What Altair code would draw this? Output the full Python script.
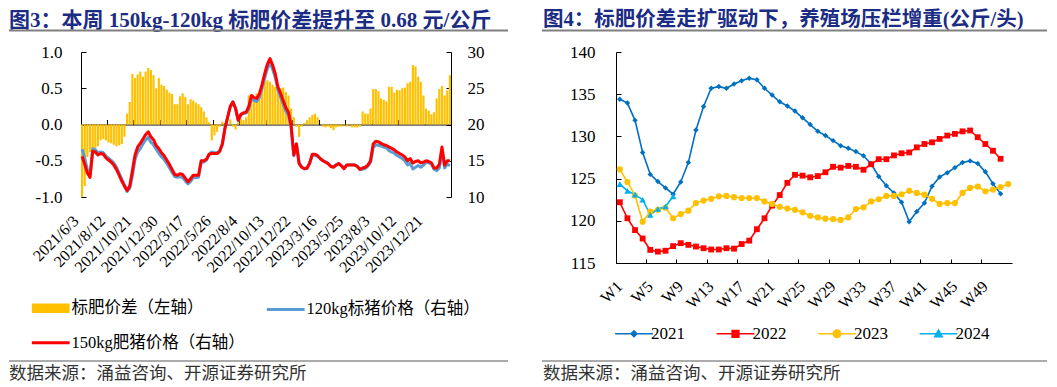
import math
import altair as alt
import pandas as pd

# ------------------------------------------------------------------ Figure 3 data
SPREAD = [
    -1.00, -0.85, -0.45, -0.38, -0.35, -0.33, -0.30, -0.22, -0.20, -0.22,
    -0.25, -0.26, -0.28, -0.30, -0.29, -0.27, -0.17, 0.15, 0.31, 0.70,
    0.64, 0.69, 0.73, 0.66, 0.73, 0.78, 0.75, 0.68, 0.50, 0.64,
    0.55, 0.53, 0.48, 0.44, 0.42, 0.28, 0.28, 0.39, 0.43, 0.38,
    0.28, 0.35, 0.33, 0.30, 0.28, 0.24, 0.18, 0.10, 0.03, -0.22,
    -0.15, -0.10, -0.03, 0.04, 0.02, 0.00, 0.07, -0.03, -0.07, 0.03,
    0.08, 0.06, 0.10, 0.40, 0.38, 0.36, 0.43, 0.47, 0.50, 0.59,
    0.61, 0.59, 0.55, 0.52, 0.45, 0.50, 0.51, 0.45, 0.40, 0.22,
    0.10, -0.03, -0.17, -0.03, 0.02, 0.06, 0.10, 0.13, 0.15, 0.10,
    0.00, -0.03, -0.04, -0.03, -0.05, -0.08, -0.04, -0.03, -0.03, -0.01,
    -0.03, -0.01, -0.04, -0.04, -0.04, -0.03, 0.18, 0.15, 0.15, 0.22,
    0.49, 0.49, 0.46, 0.36, 0.34, 0.32, 0.52, 0.52, 0.44, 0.48,
    0.47, 0.50, 0.51, 0.57, 0.59, 0.82, 0.80, 0.66, 0.59, 0.40,
    0.22, 0.19, 0.14, 0.17, 0.36, 0.49, 0.53, 0.40, 0.47, 0.68,
]
P150 = [
    15.6, 14.5, 13.3, 12.7, 16.3, 16.2, 15.8, 16.0, 15.9, 15.4,
    15.1, 14.8, 14.4, 13.8, 13.0, 12.2, 11.5, 10.9, 11.5, 13.6,
    15.8, 16.9, 17.4, 18.0, 18.6, 19.0, 18.3, 17.9, 17.1, 16.7,
    16.1, 15.7, 15.1, 14.5, 13.8, 13.1, 13.0, 13.2, 13.1, 12.6,
    12.1, 12.5, 13.0, 13.0, 13.0, 15.0, 15.0, 15.2, 15.9, 16.0,
    16.0, 16.0, 16.3, 17.3, 19.5, 21.0, 22.5, 23.1, 22.2, 20.6,
    21.4, 21.6, 21.7, 22.5, 24.0, 23.7, 23.6, 24.2, 25.5, 27.0,
    28.3, 29.1, 28.2, 27.0, 25.2, 24.3, 23.3, 22.3, 21.7, 19.8,
    15.8, 17.3, 14.6, 14.1, 13.9, 14.0, 14.7, 15.9, 15.9, 15.7,
    15.3, 15.0, 14.8, 14.6, 14.2, 14.1, 14.4, 14.6, 14.3, 13.9,
    14.4, 14.4, 14.4, 14.4, 14.2, 13.8, 14.0, 14.1, 14.4, 15.0,
    17.3, 17.7, 17.6, 17.4, 17.2, 17.1, 16.9, 16.7, 16.5, 16.2,
    16.0, 15.8, 15.5, 15.0, 15.3, 14.7, 14.9, 15.0, 14.7, 14.8,
    15.0, 14.9, 14.7, 14.0, 14.0, 14.5, 16.9, 14.4, 15.0, 15.0,
]
P120 = [
    16.60, 15.35, 13.75, 13.08, 16.65, 16.53, 16.10, 16.22, 16.10, 15.62,
    15.35, 15.06, 14.68, 14.10, 13.29, 12.47, 11.67, 10.75, 11.19, 12.90,
    15.16, 16.21, 16.67, 17.34, 17.87, 18.22, 17.55, 17.22, 16.60, 16.06,
    15.55, 15.17, 14.62, 14.06, 13.38, 12.82, 12.72, 12.81, 12.67, 12.22,
    11.82, 12.15, 12.67, 12.70, 12.72, 14.76, 14.82, 15.10, 15.87, 16.22,
    16.15, 16.10, 16.33, 17.26, 19.48, 21.00, 22.43, 23.13, 22.27, 20.57,
    21.32, 21.54, 21.60, 22.10, 23.62, 23.34, 23.17, 23.73, 25.00, 26.41,
    27.69, 28.51, 27.65, 26.48, 24.75, 23.80, 22.79, 21.85, 21.30, 19.58,
    15.70, 17.33, 14.77, 14.13, 13.88, 13.94, 14.60, 15.77, 15.75, 15.60,
    15.30, 15.03, 14.84, 14.63, 14.25, 14.18, 14.44, 14.63, 14.33, 13.91,
    14.43, 14.41, 14.44, 14.44, 14.24, 13.83, 13.82, 13.95, 14.25, 14.78,
    16.81, 17.21, 17.14, 17.04, 16.86, 16.78, 16.38, 16.18, 16.06, 15.72,
    15.53, 15.30, 14.99, 14.43, 14.71, 13.88, 14.10, 14.34, 14.11, 14.40,
    14.78, 14.71, 14.56, 13.83, 13.64, 14.01, 16.37, 14.00, 14.53, 14.32,
]
SKIPPED_WEEKS = ["2022-02-03", "2023-01-19", "2023-01-26"]
_dts = [d for d in pd.date_range("2021-06-03", "2024-02-22", freq="7D")
        if d.strftime("%Y-%m-%d") not in SKIPPED_WEEKS]
DATES = [f"{d.year}/{d.month}/{d.day}" for d in _dts]
DATE_TICKS = DATES[::10]
SPREAD_TICKS = [-1.0, -0.5, 0.0, 0.5, 1.0]
PRICE_TICKS = [10, 15, 20, 25, 30]
SERIES3 = ["标肥价差（左轴）", "120kg标猪价格（右轴）", "150kg肥猪价格（右轴）"]
COLORS3 = ["#FFC000", "#5B9BD5", "#FF0000"]

# ------------------------------------------------------------------ Figure 4 data
WEEKS = [f"W{k}" for k in range(1, 53)]
WEEK_TICKS = WEEKS[::4]
YEARS = ["2021", "2022", "2023", "2024"]
COLORS4 = ["#0070C0", "#FF0000", "#FFC000", "#00B0F0"]
W2021 = [134.4, 133.95, 131.9, 128.1, 125.5, 124.65, 123.9, 123.15, 124.6, 126.9,
         130.75, 133.55, 135.7, 135.9, 135.7, 136.2, 136.6, 136.9, 136.7, 135.7,
         134.9, 134.1, 133.6, 133.0, 132.2, 131.4, 130.6, 130.1, 129.5, 128.9,
         128.6, 128.2, 127.7, 126.75, 125.25, 124.15, 123.3, 122.2, 119.9, 121.1,
         122.1, 124.1, 125.2, 125.7, 126.3, 126.9, 127.1, 126.8, 125.8, 124.4, 123.2]
W2022 = [122.2, 120.3, 118.9, 117.9, 116.55, 116.35, 116.45, 117.0, 117.35, 117.15,
         116.95, 116.75, 116.6, 116.6, 116.75, 116.7, 117.25, 117.65, 119.0, 120.3,
         121.8, 123.05, 124.5, 125.45, 125.35, 125.15, 125.3, 125.75, 126.4, 126.3,
         126.5, 126.4, 126.05, 126.7, 127.3, 127.3, 127.75, 128.0, 128.1, 128.7,
         129.1, 129.3, 129.7, 130.1, 130.3, 130.6, 130.7, 129.9, 129.1, 128.3, 127.35]
W2023 = [126.1, 124.6, 123.0, 119.9, 121.1, 121.3, 121.55, 120.3, 120.8, 121.2,
         122.1, 122.4, 122.6, 122.9, 122.95, 122.8, 122.7, 122.7, 122.7, 122.3,
         122.0, 121.65, 121.45, 121.3, 121.0, 120.6, 120.4, 120.25, 120.2, 120.1,
         120.4, 121.4, 121.6, 122.3, 122.55, 122.95, 122.95, 123.15, 123.55, 123.3,
         123.1, 122.6, 122.0, 122.1, 122.1, 123.3, 123.9, 124.05, 123.5, 123.7,
         124.0, 124.35]
W2024 = [124.35, 123.55, 123.1, 122.5, 120.7, 121.4, 121.7, 122.9]
WEIGHT_TICKS = [115, 120, 125, 130, 135, 140]

TITLE3 = "图3：本周 150kg-120kg 标肥价差提升至 0.68 元/公斤"
TITLE4 = "图4：标肥价差走扩驱动下，养殖场压栏增重(公斤/头)"
SOURCE = "数据来源：涌益咨询、开源证券研究所"

# ------------------------------------------------------------------ styling
SERIF = "Liberation Serif, Noto Sans CJK SC"
NAVY = "#1B2C84"
W1, H1 = 370, 145
W2, H2 = 396, 211


def circle_path(r, n=16):
    pts = [(r * math.cos(2 * math.pi * k / n), r * math.sin(2 * math.pi * k / n)) for k in range(n)]
    return "M" + "L".join(f"{x:.3f},{y:.3f}" for x, y in pts) + "Z"


LINE = "M-5.4,0H5.4"


def legend_layer(field, keys, fills, strokes, shapes, legend):
    """An empty layer whose only purpose is to carry a legend (scales have explicit domains)."""
    empty = pd.DataFrame({field: pd.Series([], dtype=str)})
    return alt.Chart(empty).mark_point(filled=True).encode(
        fill=alt.Fill(f"{field}:N", scale=alt.Scale(domain=keys, range=fills), legend=legend),
        stroke=alt.Stroke(f"{field}:N", scale=alt.Scale(domain=keys, range=strokes), legend=legend),
        shape=alt.Shape(f"{field}:N", scale=alt.Scale(domain=keys, range=shapes), legend=legend),
    )


def decorations(title, title_size, x0, x1, text_x):
    base = alt.Chart(pd.DataFrame({"k": [0]}))
    t = base.mark_text(align="left", baseline="top", font=SERIF, fontSize=title_size,
                       fontWeight="bold", color=NAVY).encode(
        x=alt.value(text_x), y=alt.value(-42), text=alt.value(title))
    r1 = base.mark_rule(color="#808080", strokeWidth=2).encode(
        x=alt.value(x0), x2=alt.value(x1), y=alt.value(-21.5))
    r2 = base.mark_rule(color="#595959", strokeWidth=1).encode(
        x=alt.value(x0), x2=alt.value(x1), y=alt.value(309))
    s = base.mark_text(align="left", baseline="middle", font="Noto Sans CJK SC",
                       fontSize=17.5, color="#333333").encode(
        x=alt.value(text_x), y=alt.value(321.5), text=alt.value(SOURCE))
    return [t, r1, r2, s]


# ------------------------------------------------------------------ Figure 3
df_bar = pd.DataFrame({"date": DATES, "spread": SPREAD})
df_line = pd.concat([
    pd.DataFrame({"date": DATES, "price": P120, "series": SERIES3[1]}),
    pd.DataFrame({"date": DATES, "price": P150, "series": SERIES3[2]}),
])

xs1 = alt.Scale(type="band", paddingInner=0.18, paddingOuter=0)
spread_scale = alt.Scale(domain=[-1, 1], nice=False, zero=False)
price_scale = alt.Scale(domain=[10, 30], nice=False, zero=False)
color_lines3 = alt.Scale(domain=SERIES3[1:], range=COLORS3[1:])

legend3 = alt.Legend(
    orient="none", legendX=-38.5, legendY=248, columns=2, direction="horizontal",
    title=None, padding=0,
    labelFont=SERIF, labelFontSize=16.5, labelColor="black", labelLimit=400,
    labelOffset=12.5, symbolSize=49, columnPadding=15, rowPadding=15.5,
    symbolStrokeWidth=3, symbolOpacity=1,
)
leg3 = legend_layer("leg3", SERIES3, ["#FFC000", "transparent", "transparent"],
                    ["transparent", "#5B9BD5", "#FF0000"],
                    ["M-5.4,-1.35H5.4V1.35H-5.4Z", LINE, LINE], legend3)

x_labels1 = alt.Axis(orient="bottom", values=DATE_TICKS, domain=False, ticks=False, tickSize=0,
                     labelAngle=-45, labelAlign="right", labelBaseline="middle",
                     labelPadding=21, labelOffset=-6, labelFont=SERIF, labelFontSize=16,
                     labelColor="black", bandPosition=0, title=None, grid=False)
x_zero1 = alt.Axis(orient="top", offset=-H1 / 2, values=DATE_TICKS, labels=False, domain=True,
                   domainColor="black", domainWidth=1, ticks=True, tickSize=5, tickColor="black",
                   tickWidth=1, bandPosition=0, title=None, grid=False)

bars = alt.Chart(df_bar).mark_bar(color=COLORS3[0]).encode(
    x=alt.X("date:O", sort=DATES, scale=xs1, axis=x_labels1),
    y=alt.Y("spread:Q", scale=spread_scale, axis=alt.Axis(
        orient="left", values=SPREAD_TICKS,
        labelExpr="replace(format(datum.value, '.1f'), '\u2212', '-')",
        domain=True, domainColor="black", ticks=False, tickSize=0, labelPadding=19,
        labelFont=SERIF, labelFontSize=17, labelColor="black", grid=False, title=None)),
)

lines = alt.Chart(df_line).mark_line(strokeWidth=3, strokeJoin="round").encode(
    x=alt.X("date:O", sort=DATES, scale=xs1, axis=x_zero1),
    y=alt.Y("price:Q", scale=price_scale, axis=alt.Axis(
        orient="right", values=PRICE_TICKS, format="d", domain=True, domainColor="black",
        ticks=False, tickSize=0, labelPadding=16, labelFont=SERIF, labelFontSize=17,
        labelColor="black", grid=False, title=None)),
    color=alt.Color("series:N", scale=color_lines3, legend=None),
)

ticks_spread = alt.Chart(df_bar).mark_point(opacity=0).encode(
    x=alt.X("date:O", sort=DATES, scale=xs1, axis=None),
    y=alt.Y("spread:Q", scale=spread_scale, axis=alt.Axis(
        orient="right", offset=-W1, values=SPREAD_TICKS, labels=False, domain=False,
        ticks=True, tickSize=5, tickColor="black", grid=False, title=None)),
)
ticks_price = alt.Chart(df_line).mark_point(opacity=0).encode(
    x=alt.X("date:O", sort=DATES, scale=xs1, axis=None),
    y=alt.Y("price:Q", scale=price_scale, axis=alt.Axis(
        orient="left", offset=-W1, values=PRICE_TICKS, labels=False, domain=False,
        ticks=True, tickSize=5, tickColor="black", grid=False, title=None)),
)

left = alt.layer(bars, lines, ticks_spread, ticks_price, leg3,
                 *decorations(TITLE3, 21, -72, 427, -72)).resolve_scale(
    y="independent").resolve_axis(x="independent", y="independent").properties(
    width=W1, height=H1)

# ------------------------------------------------------------------ Figure 4
rows = []
for yr, vals in zip(YEARS, [W2021, W2022, W2023, W2024]):
    for wk, v in zip(WEEKS, vals):
        rows.append({"week": wk, "weight": v, "year": yr})
df4 = pd.DataFrame(rows)

xs2 = alt.Scale(type="band", paddingInner=0, paddingOuter=0)
ys2 = alt.Scale(domain=[115, 140], nice=False, zero=False)
color4 = alt.Scale(domain=YEARS, range=COLORS4)

SHAPES4 = [
    LINE + "M0,-0.8L0.8,0L0,0.8L-0.8,0Z",
    LINE + "M-0.95,-0.95H0.95V0.95H-0.95Z",
    LINE + circle_path(1.05),
    LINE + "M0,-1.05L1.05,0.85H-1.05Z",
]
legend4 = alt.Legend(
    orient="none", legendX=9.5, legendY=273, columns=4, direction="horizontal", title=None,
    padding=0, labelFont=SERIF, labelFontSize=17, labelColor="black", labelLimit=200,
    labelOffset=8.5, symbolSize=49, columnPadding=27.5, symbolStrokeWidth=1.6,
    symbolOpacity=1,
)
leg4 = legend_layer("leg4", YEARS, COLORS4, COLORS4, SHAPES4, legend4)

lines4 = alt.Chart(df4).mark_line(strokeWidth=1.6).encode(
    x=alt.X("week:O", sort=WEEKS, scale=xs2, axis=alt.Axis(
        orient="bottom", values=WEEK_TICKS, domain=True, domainColor="black", ticks=False,
        tickSize=0, labelAngle=-45, labelAlign="right", labelBaseline="middle",
        labelPadding=20.5, labelOffset=0, labelFont=SERIF, labelFontSize=16,
        labelColor="black", bandPosition=0, title=None, grid=False)),
    y=alt.Y("weight:Q", scale=ys2, axis=alt.Axis(
        orient="left", values=WEIGHT_TICKS, format="d", domain=True, domainColor="black",
        ticks=False, tickSize=0, labelPadding=21, labelFont=SERIF, labelFontSize=17,
        labelColor="black", grid=False, title=None)),
    color=alt.Color("year:N", scale=color4, legend=None),
)

points4 = alt.Chart(df4).mark_point(filled=True, opacity=1).encode(
    x=alt.X("week:O", sort=WEEKS, scale=xs2, axis=alt.Axis(
        orient="top", offset=-H2, values=WEEK_TICKS, labels=False, domain=False,
        ticks=True, tickSize=4, tickColor="black", bandPosition=0, title=None, grid=False)),
    y=alt.Y("weight:Q", scale=ys2, axis=alt.Axis(
        orient="right", offset=-W2, values=WEIGHT_TICKS, labels=False, domain=False,
        ticks=True, tickSize=5, tickColor="black", grid=False, title=None)),
    color=alt.Color("year:N", scale=color4, legend=None),
    shape=alt.Shape("year:N", scale=alt.Scale(domain=YEARS, range=["diamond", "square", "circle", "triangle-up"]), legend=None),
    size=alt.Size("year:O", scale=alt.Scale(domain=YEARS, range=[30, 42, 44, 44]), legend=None),
)

right = alt.layer(lines4, points4, leg4, *decorations(TITLE4, 20.5, -74, 431, -73)).resolve_scale(
    shape="independent", fill="independent", stroke="independent", size="independent"
).resolve_axis(x="independent", y="independent").properties(width=W2, height=H2)

chart = alt.hconcat(left, right, spacing=165, bounds="flush").resolve_scale(
    color="independent", shape="independent", fill="independent", stroke="independent",
    size="independent").resolve_legend(
    color="independent", shape="independent", fill="independent", stroke="independent",
    size="independent").properties(
    padding={"left": 0, "right": 0, "top": 2, "bottom": 0}).configure_view(stroke=None)

chart.save("out.html", embed_options={"renderer": "svg", "actions": False})
